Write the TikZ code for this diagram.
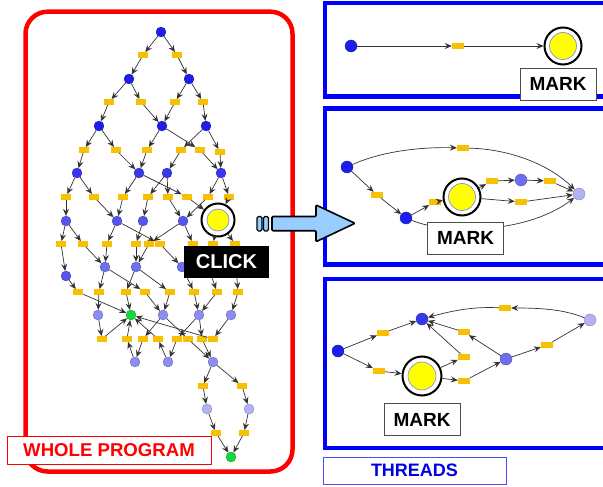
\documentclass[tikz,border=0pt]{standalone}
\usepackage{fontspec}
\setmainfont{Liberation Sans}
\usetikzlibrary{arrows.meta}
\definecolor{tokY}{RGB}{247,192,0}
\definecolor{markY}{RGB}{255,255,0}
\definecolor{ringB}{RGB}{140,140,230}
\definecolor{vA}{RGB}{30,30,235}
\definecolor{vB}{RGB}{55,55,236}
\definecolor{vC}{RGB}{85,85,238}
\definecolor{vD}{RGB}{110,110,240}
\definecolor{vE}{RGB}{140,140,242}
\definecolor{vF}{RGB}{178,178,246}
\definecolor{gN}{RGB}{20,215,60}
\definecolor{arrB}{RGB}{153,204,255}
\definecolor{frameR}{RGB}{255,0,0}
\definecolor{frameB}{RGB}{0,0,255}
\tikzset{
  vtx/.style={circle, inner sep=0pt, minimum size=10pt, fill=#1, draw=#1!70!black, line width=0.3pt},
  pvtx/.style={vtx=#1, minimum size=12pt},
  tok/.style={rectangle, inner sep=0pt, minimum width=10.5pt, minimum height=5.5pt, fill=tokY},
  ptok/.style={tok, minimum width=12pt, minimum height=6pt},
  ring/.style={circle, inner sep=0pt, minimum size=#1, draw=black, line width=2pt, fill=white},
  sun/.style={circle, inner sep=0pt, minimum size=#1, fill=markY, draw=ringB, line width=0.7pt},
  edge/.style={draw=black!80, line width=0.7pt, -{Stealth[length=7pt,width=6pt,inset=2.5pt]}},
  tag/.style={draw=black!70, fill=white, line width=0.8pt, text=black,
    font=\bfseries\fontsize{19}{19}\selectfont, minimum width=76pt, minimum height=32pt, inner sep=0pt},
}
\begin{document}
\begin{tikzpicture}[x=1pt, y=-1pt]
\clip (0,0) rectangle (603,487);
\fill[white] (0,0) rectangle (603,487);

% ---------- frames ----------
\draw[frameR, line width=4.5pt, rounded corners=22pt] (25.5,11.7) rectangle (292.5,471.5);
\draw[frameB, line width=4.5pt] (325,3) rectangle (612,96.3);
\draw[frameB, line width=4.5pt] (325,108.7) rectangle (612,264.7);
\draw[frameB, line width=4.5pt] (325,279) rectangle (612,448);

% ---------- whole program graph ----------
\node[vtx=vA] (a) at (161,32) {};
\node[tok] (ya1) at (143,55) {};
\node[tok] (ya2) at (177,55) {};
\node[vtx=vA] (b1) at (129,79) {};
\node[vtx=vA] (b2) at (189,79) {};
\node[tok] (yb1) at (109,102) {};
\node[tok] (yb2) at (141,102) {};
\node[tok] (yb3) at (175,102) {};
\node[tok] (yb4) at (203,102) {};
\node[vtx=vA] (c1) at (99,126) {};
\node[vtx=vA] (c2) at (162,126) {};
\node[vtx=vA] (c3) at (206,126) {};
\node[tok] (yc1) at (84,150) {};
\node[tok] (yc2) at (116,150) {};
\node[tok] (yc3) at (147,150) {};
\node[tok] (yc4) at (181,150) {};
\node[tok] (yc5) at (200,150) {};
\node[tok] (yc6) at (220,152) {};
\node[vtx=vB] (d1) at (77,173) {};
\node[vtx=vB] (d2) at (139,173) {};
\node[vtx=vB] (d3) at (167,173) {};
\node[vtx=vB] (d4) at (221,173) {};
\node[tok] (yd1) at (66,197) {};
\node[tok] (yd2) at (94,197) {};
\node[tok] (yd3) at (123,197) {};
\node[tok] (yd4) at (148,197) {};
\node[tok] (yd5) at (168,197) {};
\node[tok] (yd6) at (187,197) {};
\node[tok] (yd7) at (208,197) {};
\node[tok] (yd8) at (229,197) {};
\node[vtx=vC] (e1) at (66,221) {};
\node[vtx=vC] (e2) at (117,221) {};
\node[vtx=vC] (e3) at (143,221) {};
\node[vtx=vC] (e4) at (183,221) {};
\node[ring=33pt] (m0) at (218,220) {};
\node[sun=22pt] at (218,220) {};
\node[tok] (ye1) at (61,244) {};
\node[tok] (ye2) at (83,244) {};
\node[tok] (ye3) at (107,244) {};
\node[tok] (ye4) at (136,244) {};
\node[tok] (ye5) at (149,244) {};
\node[tok] (ye6) at (160,244) {};
\node[tok] (ye7) at (193,244) {};
\node[tok] (ye8) at (213,244) {};
\node[tok] (ye9) at (235,244) {};
\node[vtx=vC] (g1) at (66,276) {};
\node[vtx=vD] (g2) at (105,267) {};
\node[vtx=vD] (g3) at (136,267) {};
\node[vtx=vD] (g4) at (182,267) {};
\node[vtx=vD] (g5) at (208,266) {};
\node[vtx=vD] (g6) at (236,266) {};
\node[tok] (yh1) at (78,292) {};
\node[tok] (yh2) at (99,292) {};
\node[tok] (yh3) at (126,292) {};
\node[tok] (yh4) at (145,292) {};
\node[tok] (yh5) at (170,292) {};
\node[tok] (yh6) at (194,292) {};
\node[tok] (yh7) at (217,292) {};
\node[tok] (yh8) at (238,292) {};
\node[vtx=vE] (i1) at (98,315) {};
\node[vtx=gN] (gr) at (131,315) {};
\node[vtx=vE] (i3) at (163,315) {};
\node[vtx=vE] (i4) at (199,315) {};
\node[vtx=vE] (i5) at (231,315) {};
\node[tok] (yj1) at (102,339) {};
\node[tok] (yj2) at (127,339) {};
\node[tok] (yj3) at (143,339) {};
\node[tok] (yj4) at (158,339) {};
\node[tok] (yj5) at (177,339) {};
\node[tok] (yj6) at (188,339) {};
\node[tok] (yj7) at (202,339) {};
\node[tok] (yj8) at (213,339) {};
\node[vtx=vE] (k1) at (135,362) {};
\node[vtx=vE] (k2) at (168,362) {};
\node[vtx=vE] (k3) at (213,362) {};
\node[tok] (yl1) at (203,386) {};
\node[tok] (yl2) at (242,386) {};
\node[vtx=vF] (l1) at (207,409) {};
\node[vtx=vF] (l2) at (249,409) {};
\node[tok] (ym1) at (216,433) {};
\node[tok] (ym2) at (244,433) {};
\node[vtx=gN] (gr2) at (231,457) {};

\foreach \s/\t in {a/ya1, ya1/b1, a/ya2, ya2/b2,
  b1/yb1, yb1/c1, b1/yb2, yb2/c2, b2/yb3, yb3/c2, b2/yb4, yb4/c3,
  c1/yc1, c1/yc2, c2/yc3, c2/yc5, c3/yc4, c3/yc6,
  yc1/d1, yc2/d2, yc3/d2, yc4/d3, yc5/d4, yc6/d4,
  d1/yd1, d1/yd2, d2/yd3, d2/yd6, d3/yd4, d3/yd5, d4/yd7, d4/yd8,
  yd1/e1, yd2/e2, yd3/e2, yd4/e3, yd5/e4, yd7/e4, yd6/m0, yd8/m0,
  e1/ye1, e1/ye2, e2/ye3, e2/ye6, e3/ye4, e4/ye5, e4/ye7, m0/ye8, m0/ye9,
  ye1/g1, ye2/g2, ye3/g2, ye4/g3, ye5/g3, ye6/g4, ye7/g5, ye8/g5, ye9/g6,
  g1/yh1, g2/yh2, g2/yh4, g3/yh3, g3/yh5, g4/yh6, g5/yh7, g6/yh8,
  yh1/gr, yh2/i1, yh3/gr, yh4/i3, yh5/i3, yh6/i4, yh7/i4, yh8/i5,
  i1/yj1, yj1/gr, k1/yj2, yj2/gr, i3/yj3, yj3/k1, k2/yj4, yj4/gr,
  i4/yj5, yj5/k2, i3/yj6, yj6/k3, i4/yj7, yj7/k3, i5/yj8, yj8/gr,
  k3/yl1, yl1/l1, l1/ym1, ym1/gr2, k3/yl2, yl2/l2, l2/ym2, ym2/gr2}
  \draw[edge] (\s) -- (\t);

% ---------- thread 1 ----------
\node[pvtx=vA] (p1a) at (351,46) {};
\node[ptok] (y1) at (458,46) {};
\node[ring=37pt] (m1) at (563,46) {};
\node[sun=27pt] at (563,46) {};
\draw[edge] (p1a) -- (y1);
\draw[edge] (y1) -- (m1);
\node[tag] at (558,84) {MARK};

% ---------- thread 2 ----------
\node[pvtx=vA] (p2a) at (347,167) {};
\node[ptok] (y2t) at (463,148) {};
\node[pvtx=vF] (p2e) at (579,194) {};
\node[ptok] (y2a) at (377,195) {};
\node[pvtx=vA] (p2b) at (406,218) {};
\node[ptok] (y2b) at (435,202) {};
\node[ring=37pt] (m2) at (462,197) {};
\node[sun=27pt] at (462,197) {};
\node[ptok] (y2c) at (492,181) {};
\node[pvtx=vD] (p2c) at (521,180) {};
\node[ptok] (y2d) at (550,181) {};
\node[ptok] (y2e) at (521,202) {};
\draw[edge] (p2a) .. controls (385,150) and (425,147) .. (y2t);
\draw[edge] (y2t) .. controls (510,149) and (550,165) .. (p2e);
\foreach \s/\t in {p2a/y2a, y2a/p2b, p2b/y2b, y2b/m2, m2/y2c, y2c/p2c,
  p2c/y2d, y2d/p2e, m2/y2e, y2e/p2e}
  \draw[edge] (\s) -- (\t);
\draw[edge] (p2b) .. controls (450,236) and (530,232) .. (p2e);
\node[tag] at (465.5,238) {MARK};

% ---------- thread 3 ----------
\node[pvtx=vA] (q1) at (338,351) {};
\node[ptok] (y3a) at (383,333) {};
\node[pvtx=vB] (q2) at (422,319) {};
\node[ptok] (y3b) at (379,371) {};
\node[ring=39pt] (m3) at (422,376) {};
\node[sun=28pt] at (422,376) {};
\node[ptok] (y3c) at (464,357) {};
\node[ptok] (y3d) at (464,381) {};
\node[pvtx=vD] (q3) at (506,359) {};
\node[ptok] (y3e) at (464,332) {};
\node[ptok] (y3f) at (547,345) {};
\node[pvtx=vF] (q4) at (590,320) {};
\node[ptok] (y3g) at (505,308) {};
\foreach \s/\t in {q1/y3a, y3a/q2, q1/y3b, y3b/m3, m3/y3c, y3c/q2,
  m3/y3d, y3d/q3, q3/y3e, y3e/q2, q3/y3f, y3f/q4}
  \draw[edge] (\s) -- (\t);
\draw[edge] (q4) .. controls (565,310) and (545,308) .. (y3g);
\draw[edge] (y3g) .. controls (480,307) and (462,308) .. (q2);
\node[tag] at (422,419.5) {MARK};

% ---------- click and jump arrow ----------
\node[fill=black, text=white, font=\bfseries\fontsize{20}{20}\selectfont,
  minimum width=85pt, minimum height=32pt, inner sep=0pt] (click) at (226.5,262) {CLICK};
\draw[fill=arrB, line width=1.6pt, line join=round, rounded corners=1pt]
  (272,216.5) -- (316,216.5) -- (316,205) -- (355,223.3) -- (316,241.7) -- (316,230.7) -- (272,230.7) -- cycle;
\draw[fill=arrB, line width=1.4pt, rounded corners=1.5pt] (257,216.5) rectangle (262,231);
\draw[fill=arrB, line width=1.4pt, rounded corners=1.5pt] (263.5,216.5) rectangle (268.5,231);

% ---------- captions ----------
\node[draw=frameR, fill=white, line width=1pt, text=frameR, font=\bfseries\fontsize{18.6}{18.6}\selectfont,
  minimum width=204pt, minimum height=28pt, inner sep=0pt] at (109,450) {WHOLE PROGRAM};
\node[draw=frameB!70!white, fill=white, line width=1pt, text=frameB!90!black, font=\bfseries\fontsize{18}{18}\selectfont,
  minimum width=183pt, minimum height=27pt, inner sep=0pt] at (414.5,470.5) {THREADS};
\end{tikzpicture}
\end{document}
